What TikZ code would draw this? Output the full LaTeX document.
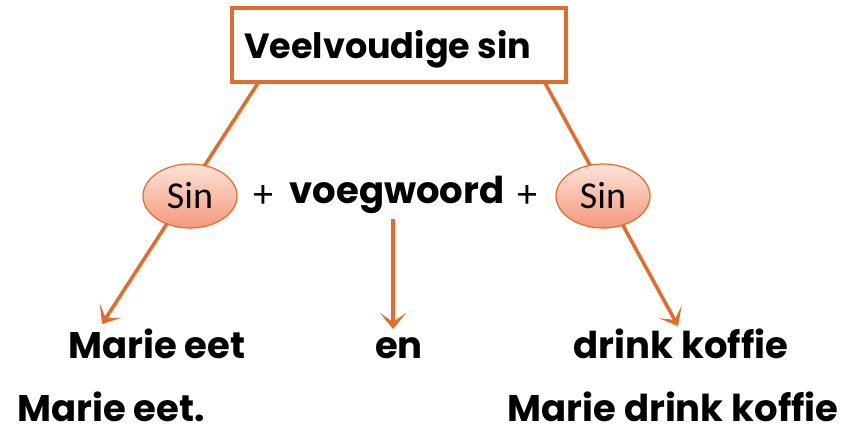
\documentclass[tikz,border=0pt]{standalone}
\usepackage{fontspec}
\setmainfont{Poppins}
\newfontfamily\calib{Carlito}
\usetikzlibrary{arrows.meta,shapes.geometric}
\definecolor{org}{HTML}{E36C2A}
\definecolor{ballT}{HTML}{FDE3D8}
\definecolor{ballB}{HTML}{F4987C}
\tikzset{
  lbl/.style={font=\fontsize{37}{40}\selectfont\bfseries, inner sep=0pt, anchor=base},
  ball/.style={ellipse, draw=org, line width=1.2pt, top color=ballT, bottom color=ballB,
     minimum width=94pt, minimum height=64pt, inner sep=0pt,
     font=\calib\fontsize{38}{40}\selectfont},
  conn/.style={draw=org, line width=3.5pt},
  arr/.style={conn, -{Stealth[length=16pt,width=26pt,inset=9pt]}},
  plus/.style={font=\calib\fontsize{40}{42}\selectfont, inner sep=0pt}
}
\begin{document}
\begin{tikzpicture}[x=1pt,y=-1pt]
\useasboundingbox (0,0) rectangle (845,434);
\fill[white] (0,0) rectangle (845,434);
% title box
\node[draw=org, line width=3.5pt, fill=white, minimum width=334pt, minimum height=74pt, inner sep=0pt] (box) at (399,45) {};
\node[lbl, anchor=base west, font=\fontsize{35}{40}\selectfont\bfseries] (title) at (244,58) {Veelvoudige sin};
% connectors behind ellipses
\coordinate (l0) at (258,83);
\coordinate (l1) at (102,324);
\coordinate (r0) at (545,83);
\coordinate (r1) at (678,326);
\draw[arr] (l0) -- (l1);
\draw[arr] (r0) -- (r1);
% ellipses
\node[ball] (s1) at (190,196) {Sin};
\node[ball] (s2) at (603,196) {Sin};
\node[plus] (p1) at (263,196) {+};
\node[plus] (p2) at (527,196) {+};
\node[lbl] (vw) at (397,203) {voegwoord};
\coordinate (v1) at (393,329);
\draw[arr] (vw.south -| v1) ++(0,6) -- (v1);
% bottom texts
\node[lbl] (a1) at (157,358) {Marie eet};
\node[lbl] (a2) at (399,358) {en};
\node[lbl] (a3) at (681,358) {drink koffie};
\node[lbl, text depth=0pt] (b1) at (111,421) {Marie eet.};
\node[lbl, text depth=0pt] (b2) at (673,421) {Marie drink koffie};
\end{tikzpicture}
\end{document}
